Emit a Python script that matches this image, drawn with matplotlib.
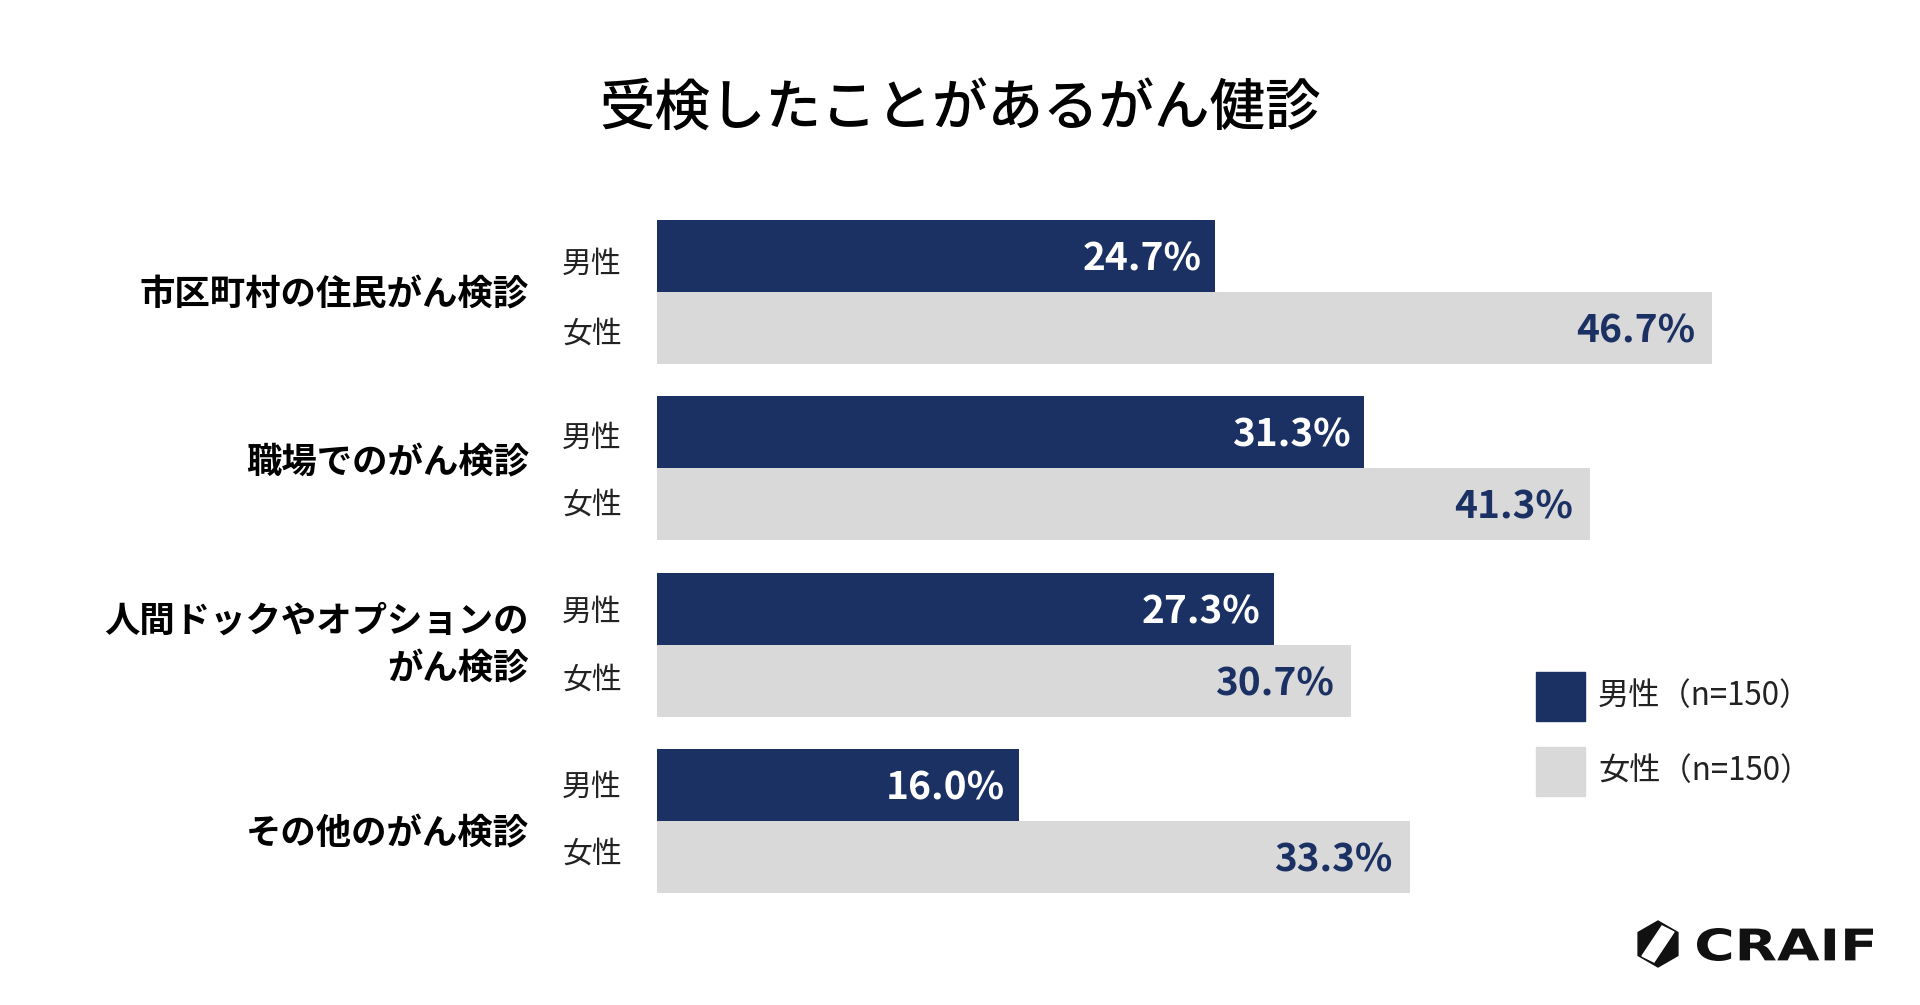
import matplotlib
matplotlib.use("Agg")
from matplotlib import pyplot as plt
from matplotlib import transforms
from matplotlib.patches import Polygon, Rectangle, PathPatch
from matplotlib.textpath import TextPath
from matplotlib.font_manager import FontProperties
import numpy as np

plt.rcParams['font.family'] = ['Noto Sans CJK JP', 'DejaVu Sans']

title = "受検したことがあるがん健診"
categories = ["市区町村の住民がん検診", "職場でのがん検診",
              "人間ドックやオプションの\nがん検診", "その他のがん検診"]
male = [24.7, 31.3, 27.3, 16.0]
female = [46.7, 41.3, 30.7, 33.3]
series_labels = ["男性（n=150）", "女性（n=150）"]
row_labels = ["男性", "女性"]

navy = "#1c3163"
gray = "#d9d9d9"

W, H = 1920, 1005
fig = plt.figure(figsize=(W / 100, H / 100), dpi=100)

h = 0.407  # bar height in group units
left, right = 657, 1787
top, bottom = 220, 893
ax = fig.add_axes([left / W, (H - bottom) / H, (right - left) / W, (bottom - top) / H])
ax.set_xlim(0, 50)
ax.set_ylim(3 + h, -h)
ax.axis("off")

y = np.arange(len(categories))
ax.barh(y - h / 2, male, height=h, color=navy)
ax.barh(y + h / 2, female, height=h, color=gray)

for i in range(len(categories)):
    ax.annotate(f"{male[i]:.1f}%", (male[i], y[i] - h / 2), xytext=(-14, -3),
                textcoords="offset pixels", ha="right", va="center",
                fontsize=28, fontweight="bold", color="white")
    ax.annotate(f"{female[i]:.1f}%", (female[i], y[i] + h / 2), xytext=(-17, -3),
                textcoords="offset pixels", ha="right", va="center",
                fontsize=28, fontweight="bold", color=navy)

# labels left of the bars
tr = transforms.blended_transform_factory(fig.transFigure, ax.transData)
cat_shift = [3, -5, 0, 13]  # pixel nudges seen in the original
male_shift = [3, 1, -2, -3]
female_shift = [3, -3, -4, -6]
for i, cat in enumerate(categories):
    t = transforms.offset_copy(tr, fig=fig, x=0, y=-cat_shift[i], units="dots")
    fig.text(529 / W, y[i], cat, transform=t, ha="right", va="center",
             fontsize=25.5, fontweight="bold", color="black", linespacing=1.45)
    tm = transforms.offset_copy(tr, fig=fig, x=0, y=-male_shift[i], units="dots")
    fig.text(592 / W, y[i] - h / 2 + 0.03, row_labels[0], transform=tm,
             ha="center", va="center", fontsize=21.5, color="#222222")
    tf = transforms.offset_copy(tr, fig=fig, x=0, y=-female_shift[i], units="dots")
    fig.text(592 / W, y[i] + h / 2 + 0.02, row_labels[1], transform=tf,
             ha="center", va="center", fontsize=21.5, color="#222222")

fig.text(960 / W, 1 - 110 / H, title, ha="center", va="center",
         fontsize=40, fontweight="medium", color="black")

# legend
for k, (lab, col) in enumerate(zip(series_labels, [navy, gray])):
    y0 = 672 + k * 75
    fig.patches.append(Rectangle((1536 / W, 1 - (y0 + 49) / H), 49 / W, 49 / H,
                                 transform=fig.transFigure, color=col))
    fig.text(1598 / W, 1 - (y0 + 24) / H, lab, ha="left", va="center",
             fontsize=22.5, color="#222222")

# logo
cx, cy, r = 1658, 944, 23
ang = np.deg2rad(np.arange(6) * 60 + 90)
hexpts = [((cx + r * np.cos(a)) / W, 1 - (cy - r * np.sin(a)) / H) for a in ang]
fig.patches.append(Polygon(hexpts, closed=True, transform=fig.transFigure,
                           color="#111111"))
slash = [(cx - 16, cy + 12), (cx - 4, cy + 18), (cx + 16, cy - 12), (cx + 4, cy - 18)]
fig.patches.append(Polygon([(px / W, 1 - py / H) for px, py in slash], closed=True,
                           transform=fig.transFigure, color="white"))

# wide logo lettering: stretch a text path into the box it fills
tp = TextPath((0, 0), "CRAIF", size=10, prop=FontProperties(family="DejaVu Sans", weight="bold"))
ext = tp.get_extents()
bx0, bx1, by0, by1 = 1697, 1873, 928, 961
sx = (bx1 - bx0) / ext.width
sy = (by1 - by0) / ext.height
logo_tr = (transforms.Affine2D().translate(-ext.x0, -ext.y0).scale(sx, sy)
           .translate(bx0, H - by1) + transforms.IdentityTransform())
fig.patches.append(PathPatch(tp, transform=logo_tr, color="#111111", lw=0))

fig.savefig("out.png", dpi=100, facecolor="white")
